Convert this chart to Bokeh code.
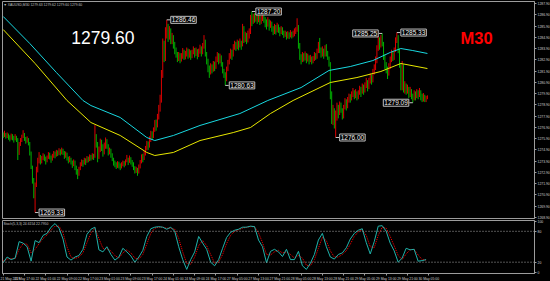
import numpy as np
from bokeh.plotting import figure
from bokeh.models import (Range1d, FixedTicker, Label, Span, ColumnDataSource,
                          PrintfTickFormatter)
from bokeh.layouts import column
from bokeh.embed import file_html
from bokeh.resources import INLINE

# ---------------- data (XAUUSD, M30) ----------------
first_open = 1276.30
closes = [
 1276.20,1276.35,1276.10,1276.25,1276.05,1275.90,1276.15,1276.00,1275.85,1276.10,
 1275.80,1274.60,1275.40,1275.75,1276.05,1276.30,1275.95,1275.70,1275.90,1275.50,
 1274.60,1273.40,1272.20,1271.10,1271.80,1273.20,1273.90,1274.30,1273.85,1274.10,
 1274.40,1274.15,1273.90,1274.25,1274.50,1274.30,1274.05,1274.35,1274.60,1274.40,
 1274.70,1274.55,1274.85,1274.60,1274.90,1274.70,1274.40,1274.55,1274.20,1273.95,
 1274.10,1273.80,1273.55,1273.90,1273.40,1273.00,1272.70,1273.20,1273.60,1273.85,
 1273.70,1274.00,1273.85,1274.20,1274.05,1274.30,1274.15,1274.40,1274.25,1276.10,
 1275.40,1274.30,1274.80,1275.50,1275.10,1274.60,1275.20,1275.70,1275.30,1274.70,
 1274.90,1274.40,1274.10,1273.80,1273.60,1273.45,1273.70,1273.50,1273.35,1273.60,
 1273.80,1273.55,1273.90,1274.10,1273.85,1274.20,1273.95,1273.70,1273.30,1273.00,
 1273.20,1272.90,1273.40,1273.80,1274.30,1274.10,1274.60,1275.00,1275.40,1275.20,
 1275.80,1276.30,1276.10,1276.70,1277.30,1277.10,1277.90,1278.60,1279.30,1281.50,
 1284.20,1283.00,1285.30,1285.70,1285.00,1285.40,1284.60,1284.90,1284.20,1283.80,
 1283.40,1283.00,1283.30,1282.90,1283.20,1283.60,1283.10,1283.40,1283.70,1283.30,
 1283.60,1283.20,1283.50,1283.80,1283.40,1283.70,1283.30,1283.60,1283.90,1283.50,
 1284.10,1284.60,1283.40,1282.80,1282.20,1281.70,1282.30,1282.00,1282.60,1282.20,
 1282.90,1283.30,1282.80,1283.20,1282.50,1281.90,1281.60,1281.20,1282.10,1282.70,
 1283.20,1283.60,1283.30,1284.00,1284.30,1284.00,1284.40,1284.10,1284.50,1284.20,
 1285.50,1284.70,1285.10,1284.60,1285.00,1285.30,1286.60,1286.20,1286.80,1286.50,
 1286.80,1286.40,1286.70,1286.30,1286.60,1286.90,1286.50,1286.20,1286.00,1286.40,
 1285.90,1286.20,1285.70,1285.40,1285.80,1285.50,1285.90,1285.60,1285.30,1285.70,
 1285.40,1285.10,1285.30,1284.90,1285.20,1284.95,1285.30,1285.00,1285.25,1285.40,
 1285.60,1285.90,1284.20,1283.10,1282.80,1283.30,1283.00,1283.40,1282.90,1283.20,
 1282.85,1283.10,1282.70,1283.00,1283.40,1283.20,1283.70,1284.20,1283.80,1283.40,
 1283.70,1283.30,1283.90,1283.50,1283.10,1282.50,1279.80,1277.60,1278.40,1277.30,
 1277.80,1278.60,1278.20,1278.90,1278.50,1277.90,1278.70,1279.20,1278.80,1279.30,
 1279.60,1279.40,1279.80,1280.10,1279.70,1280.00,1279.60,1279.90,1280.30,1280.00,
 1280.50,1280.10,1280.60,1280.90,1280.40,1281.00,1281.40,1281.10,1281.80,1282.20,
 1282.80,1283.90,1284.70,1284.20,1284.80,1284.30,1283.10,1282.40,1282.00,1281.60,
 1282.30,1282.90,1283.50,1283.10,1283.80,1284.60,1284.90,1283.80,1282.40,1280.40,
 1282.30,1280.20,1280.60,1280.10,1280.40,1279.80,1280.20,1279.70,1279.40,1279.90,
 1279.60,1280.00,1279.70,1280.10,1279.80,1279.40,1279.70,1279.30,1279.50,1279.60]
highs = [
 1276.45,1276.60,1276.40,1276.45,1276.35,1276.20,1276.35,1276.30,1276.15,1276.30,
 1276.15,1275.95,1275.60,1275.95,1276.25,1276.65,1276.40,1276.05,1276.10,1275.95,
 1275.60,1274.75,1273.50,1272.40,1272.00,1273.40,1274.20,1274.70,1274.45,1274.35,
 1274.60,1274.50,1274.30,1274.40,1274.70,1274.65,1274.40,1274.55,1274.80,1274.75,
 1274.90,1274.85,1275.05,1274.95,1275.10,1275.00,1274.80,1274.75,1274.65,1274.30,
 1274.35,1274.20,1273.95,1274.05,1273.95,1273.50,1273.20,1273.40,1273.80,1274.05,
 1274.00,1274.20,1274.15,1274.35,1274.30,1274.50,1274.45,1274.60,1274.55,1277.10,
 1276.30,1275.60,1275.20,1275.90,1275.80,1275.40,1275.55,1276.00,1275.85,1275.40,
 1275.10,1275.00,1274.60,1274.20,1273.95,1273.80,1273.90,1273.85,1273.70,1273.80,
 1273.95,1273.90,1274.05,1274.45,1274.20,1274.40,1274.25,1274.00,1273.80,1273.45,
 1273.40,1273.30,1273.60,1274.00,1274.50,1274.55,1274.80,1275.25,1275.70,1275.65,
 1276.10,1276.60,1276.55,1276.90,1277.55,1277.60,1278.10,1278.90,1279.80,1282.00,
 1284.80,1284.60,1285.80,1286.46,1286.10,1285.90,1285.70,1285.30,1285.10,1284.50,
 1284.00,1283.60,1283.60,1283.50,1283.50,1283.95,1283.80,1283.70,1284.00,1283.90,
 1283.85,1283.75,1283.80,1284.10,1283.95,1284.00,1283.85,1283.90,1284.25,1284.10,
 1284.40,1285.10,1284.70,1283.60,1283.00,1282.40,1282.60,1282.50,1282.80,1282.75,
 1283.20,1283.60,1283.50,1283.45,1283.30,1282.70,1282.10,1281.80,1282.30,1282.90,
 1283.50,1283.90,1283.80,1284.30,1284.60,1284.50,1284.70,1284.60,1284.80,1284.60,
 1286.10,1285.90,1285.40,1285.30,1285.50,1285.70,1286.90,1287.20,1287.00,1287.05,
 1287.10,1287.00,1286.95,1286.90,1286.85,1287.10,1287.00,1286.70,1286.50,1286.70,
 1286.50,1286.40,1286.30,1285.90,1286.10,1286.00,1286.20,1286.05,1285.80,1285.90,
 1285.80,1285.50,1285.50,1285.40,1285.45,1285.35,1285.55,1285.40,1285.50,1285.70,
 1285.80,1286.60,1286.00,1284.40,1283.40,1283.60,1283.50,1283.65,1283.50,1283.45,
 1283.30,1283.35,1283.20,1283.25,1283.60,1283.50,1283.90,1284.50,1284.85,1284.00,
 1284.10,1283.90,1284.20,1284.30,1283.70,1283.20,1282.70,1280.10,1278.90,1278.60,
 1278.40,1279.10,1278.90,1279.20,1279.10,1278.60,1278.90,1279.50,1279.40,1279.60,
 1279.90,1279.85,1280.10,1280.40,1280.20,1280.30,1280.10,1280.20,1280.60,1280.50,
 1280.80,1280.70,1280.90,1281.30,1281.10,1281.30,1281.70,1281.60,1282.10,1282.50,
 1283.20,1284.20,1285.00,1284.90,1285.10,1285.25,1284.50,1283.40,1282.70,1282.30,
 1282.60,1283.20,1283.80,1283.70,1284.00,1284.90,1285.33,1285.10,1283.90,1282.60,
 1282.80,1282.50,1281.00,1280.80,1280.70,1280.50,1280.50,1280.30,1279.90,1280.20,
 1280.10,1280.30,1280.20,1280.40,1280.20,1279.90,1279.95,1279.80,1279.70,1279.75]
lows = [
 1275.95,1276.05,1275.90,1275.95,1275.80,1275.65,1275.80,1275.75,1275.55,1275.75,
 1275.60,1274.00,1274.45,1275.25,1275.60,1275.95,1275.70,1275.45,1275.55,1275.30,
 1274.40,1273.20,1271.90,1270.60,1269.33,1271.60,1272.90,1273.70,1273.60,1273.70,
 1274.00,1273.90,1273.60,1273.80,1274.10,1274.05,1273.75,1273.95,1274.20,1274.15,
 1274.30,1274.35,1274.45,1274.40,1274.50,1274.45,1274.10,1274.20,1273.95,1273.70,
 1273.80,1273.60,1273.30,1273.45,1273.10,1272.70,1272.30,1272.60,1273.10,1273.45,
 1273.40,1273.60,1273.55,1273.75,1273.80,1273.90,1273.95,1274.05,1274.00,1274.20,
 1275.10,1273.80,1274.10,1274.70,1274.80,1274.30,1274.50,1275.00,1275.00,1274.40,
 1274.50,1274.20,1273.90,1273.50,1273.35,1273.20,1273.30,1273.25,1273.10,1273.25,
 1273.45,1273.35,1273.50,1273.80,1273.55,1273.75,1273.60,1273.40,1273.10,1272.80,
 1272.85,1272.60,1272.80,1273.25,1273.70,1273.80,1274.00,1274.40,1274.85,1274.90,
 1275.10,1275.60,1275.80,1275.95,1276.50,1276.60,1276.90,1277.60,1278.30,1279.10,
 1281.30,1282.70,1282.80,1284.80,1284.50,1284.70,1284.30,1284.30,1283.90,1283.40,
 1283.10,1282.70,1282.80,1282.60,1282.75,1283.00,1282.90,1282.95,1283.20,1283.00,
 1283.10,1282.90,1283.05,1283.40,1283.10,1283.25,1282.95,1283.15,1283.45,1283.20,
 1283.40,1283.90,1283.20,1282.50,1281.80,1281.30,1281.60,1281.70,1281.85,1281.90,
 1282.10,1282.70,1282.50,1282.60,1282.30,1281.70,1281.30,1280.63,1281.00,1281.90,
 1282.50,1283.00,1282.90,1283.20,1283.80,1283.70,1283.85,1283.75,1284.00,1283.80,
 1284.10,1284.40,1284.50,1284.30,1284.45,1284.80,1285.20,1285.90,1286.10,1286.20,
 1286.30,1286.10,1286.25,1286.00,1286.10,1286.35,1286.20,1285.80,1285.60,1285.85,
 1285.50,1285.75,1285.40,1285.10,1285.20,1285.15,1285.35,1285.30,1285.00,1285.20,
 1285.10,1284.85,1284.95,1284.70,1284.80,1284.75,1284.90,1284.80,1284.90,1285.00,
 1285.20,1285.40,1283.90,1282.90,1282.50,1282.70,1282.75,1282.85,1282.60,1282.75,
 1282.50,1282.70,1282.50,1282.60,1282.80,1282.90,1283.00,1283.50,1283.50,1283.10,
 1283.20,1283.00,1283.20,1283.20,1282.90,1282.30,1279.40,1277.20,1277.10,1276.80,
 1276.00,1277.50,1277.70,1278.00,1278.20,1277.60,1277.70,1278.50,1278.40,1278.60,
 1279.10,1279.10,1279.30,1279.60,1279.40,1279.50,1279.30,1279.40,1279.80,1279.60,
 1279.90,1279.80,1280.00,1280.40,1280.10,1280.30,1280.80,1280.70,1280.90,1281.60,
 1282.00,1282.60,1283.70,1283.80,1284.00,1284.10,1282.90,1282.10,1281.70,1281.20,
 1281.50,1282.10,1282.70,1282.80,1282.90,1283.60,1284.40,1283.50,1282.20,1280.20,
 1280.20,1280.00,1279.90,1279.80,1279.90,1279.50,1279.60,1279.40,1279.09,1279.30,
 1279.30,1279.50,1279.40,1279.60,1279.30,1279.15,1279.20,1279.15,1279.15,1279.40]

# moving averages (bar index, value)
ma_cyan_bar = [0, 20, 40, 60, 66, 88, 108, 114, 128, 148, 178, 199, 224, 245, 261, 278, 291, 299, 308, 319]
ma_cyan_val = [1286.76, 1284.36, 1281.78, 1279.29, 1278.84, 1277.78, 1276.00, 1275.73, 1276.18, 1277.07,
               1278.13, 1279.29, 1280.44, 1281.96, 1282.31, 1282.84, 1283.56, 1283.91, 1283.73, 1283.47]
ma_yel_bar = [0, 24, 48, 66, 88, 108, 114, 128, 148, 173, 186, 201, 218, 246, 266, 284, 299, 319]
ma_yel_val = [1285.60, 1282.58, 1279.29, 1277.33, 1276.18, 1274.67, 1274.40, 1274.67, 1275.73, 1276.44,
              1276.89, 1278.13, 1279.29, 1280.89, 1281.33, 1281.87, 1282.58, 1282.13]

# swing labels
swing_bar = [24, 123, 167, 187, 250, 285, 296, 308]
swing_price = [1269.33, 1286.46, 1280.63, 1287.20, 1276.00, 1285.25, 1285.33, 1279.09]
swing_side = ["r", "r", "r", "r", "r", "l", "r", "l"]

# stochastic (every 3rd bar)
stoch_step = 3
stoch_k = [19,30,25,28,60,57,50,22,62,58,72,76,88,95,86,65,30,24,30,33,45,74,84,88,44,40,50,35,24,30,
           47,40,32,20,30,43,70,85,88,89,88,84,88,80,50,25,6,25,40,70,57,45,20,13,25,47,68,78,82,84,
           88,88,90,89,63,50,19,41,45,40,31,45,25,25,41,13,6,18,35,63,76,50,30,26,35,38,48,65,76,82,
           85,58,36,60,90,91,80,57,42,20,28,47,44,45,22,23,25]
stoch_d = [22,26,27,27,45,56,55,38,45,56,66,73,82,90,90,77,50,30,27,30,38,58,77,86,66,47,46,42,33,28,
           38,44,38,28,26,35,55,76,86,88,88,86,86,84,66,40,18,16,30,52,62,52,35,18,20,35,56,72,80,83,
           86,88,89,89,77,58,35,34,40,43,38,40,35,28,33,28,14,13,25,47,68,62,42,30,30,35,42,55,70,79,
           83,72,50,48,72,88,86,70,52,33,25,36,44,45,34,25,24]
stoch_levels = [20, 80]

price_ticks = [1268.90 + i for i in range(20)]
time_ticks = [16 * i for i in range(21)]
time_labels = ["21 May 2019", "21 May 17:00", "22 May 01:00", "22 May 09:00", "22 May 17:00",
               "23 May 01:00", "23 May 09:00", "23 May 17:00", "24 May 01:00", "24 May 09:00",
               "24 May 17:00", "27 May 05:00", "27 May 13:00", "27 May 21:00", "28 May 05:00",
               "28 May 13:00", "28 May 21:00", "29 May 05:00", "29 May 13:00", "29 May 21:00",
               "30 May 05:00"]
last_price = 1279.60
info_text = "\u25bc XAUUSD,M30  1279.63 1279.62 1279.60 1279.60"
stoch_text = "Stoch(5,3,3) 24.6154 22.7950"

# ---------------- styling ----------------
BG = "black"
FRAME = "#9c9c9c"
AXTXT = "#d0d0d0"
UP = "#dc0000"
DN = "#00b000"
FONT = "Liberation Sans"
SMALL = "3.4px"

c = np.array(closes)
h = np.array(highs)
l = np.array(lows)
o = np.concatenate([[first_open], c[:-1]])
bars = np.arange(len(c))
top = np.maximum(h, np.maximum(o, c))
bot = np.minimum(l, np.minimum(o, c))
up = c >= o

xr = Range1d(-0.5, 399.5)

p1 = figure(frame_width=532, frame_height=217, x_range=xr,
            y_range=Range1d(1268.80, 1288.09), output_backend="svg",
            toolbar_location=None, x_axis_location=None, y_axis_location="right",
            min_border_left=2, min_border_top=1, min_border_bottom=1, min_border_right=0,
            background_fill_color=BG, border_fill_color=BG)
p1.outline_line_color = FRAME
p1.grid.visible = False
ya = p1.yaxis[0]
ya.ticker = FixedTicker(ticks=price_ticks)
ya.formatter = PrintfTickFormatter(format="%.2f")
ya.major_label_text_font_size = SMALL
ya.major_label_text_font = FONT
ya.major_label_text_color = AXTXT
ya.axis_line_color = FRAME
ya.major_tick_line_color = FRAME
ya.major_tick_out = 2
ya.major_tick_in = 0
ya.minor_tick_line_color = None
ya.major_label_standoff = 1

for mask, col in ((up, UP), (~up, DN)):
    src = ColumnDataSource(dict(x=bars[mask], t=top[mask], b=bot[mask]))
    p1.segment(x0="x", y0="b", x1="x", y1="t", source=src, line_color=col, line_width=1)

p1.line(ma_yel_bar, ma_yel_val, line_color="#e8e800", line_width=1)
p1.line(ma_cyan_bar, ma_cyan_val, line_color="#18d8e0", line_width=1)

for b, pr, side in zip(swing_bar, swing_price, swing_side):
    sgn = 1 if side == "r" else -1
    p1.segment(x0=[b], y0=[pr], x1=[b + sgn * 2.6], y1=[pr], line_color="#c8c8c8", line_width=1)
    p1.add_layout(Label(x=b, y=pr, x_offset=sgn * 4, text=f"{pr:.2f}",
                        text_align="left" if side == "r" else "right",
                        text_baseline="middle", text_font=FONT, text_font_size="6.5px",
                        text_color="#f0f0f0", background_fill_color="black",
                        border_line_color="#c0c0c0", border_line_width=1, padding=1))

p1.add_layout(Label(x=75, y=1284.89, text=f"{last_price:.2f}", text_align="center",
                    text_baseline="alphabetic", text_font=FONT, text_font_size="17.5px",
                    text_color="white"))
p1.add_layout(Label(x=356, y=1284.84, text="M30", text_align="center",
                    text_baseline="alphabetic", text_font=FONT, text_font_size="16.5px",
                    text_font_style="bold", text_color="#ff0000"))
p1.add_layout(Label(x=-0.5, y=1288.09, x_offset=1, y_offset=-1, text=info_text,
                    text_baseline="top", text_font=FONT, text_font_size=SMALL,
                    text_color="#c0c0c0"))
p1.add_layout(Label(x=399.5, y=last_price, x_offset=1, text=f"{last_price:.2f}",
                    text_baseline="middle", text_font=FONT, text_font_size=SMALL,
                    text_color="black", background_fill_color="white", padding=0))

p2 = figure(frame_width=532, frame_height=53, x_range=xr, y_range=Range1d(-2, 101),
            output_backend="svg", toolbar_location=None, y_axis_location="right",
            min_border_left=2, min_border_top=1, min_border_bottom=8, min_border_right=0,
            background_fill_color=BG, border_fill_color=BG)
p2.outline_line_color = FRAME
p2.grid.visible = False
xa = p2.xaxis[0]
xa.ticker = FixedTicker(ticks=time_ticks)
xa.major_label_overrides = {t: s for t, s in zip(time_ticks, time_labels)}
xa.major_label_text_align = "left"
xa.major_label_text_font_size = SMALL
xa.major_label_text_font = FONT
xa.major_label_text_color = AXTXT
xa.axis_line_color = FRAME
xa.major_tick_line_color = FRAME
xa.major_tick_out = 2
xa.major_tick_in = 0
xa.minor_tick_line_color = None
xa.major_label_standoff = 1
ya2 = p2.yaxis[0]
ya2.ticker = FixedTicker(ticks=[0, 20, 80, 100])
ya2.major_label_text_font_size = SMALL
ya2.major_label_text_font = FONT
ya2.major_label_text_color = AXTXT
ya2.axis_line_color = FRAME
ya2.major_tick_line_color = FRAME
ya2.major_tick_out = 2
ya2.major_tick_in = 0
ya2.minor_tick_line_color = None
ya2.major_label_standoff = 1

for lv in stoch_levels:
    p2.add_layout(Span(location=lv, dimension="width", line_color="#a8a8a8",
                       line_dash="1 2", line_width=1))

sx = [i * stoch_step for i in range(len(stoch_k))]
p2.line(sx, stoch_d, line_color="#ff0000", line_width=1, line_dash="1 1")
p2.line(sx, stoch_k, line_color="#20b2aa", line_width=1)
p2.add_layout(Label(x=-0.5, y=101, x_offset=1, y_offset=-1, text=stoch_text,
                    text_baseline="top", text_font=FONT, text_font_size=SMALL,
                    text_color="#c0c0c0"))

layout = column(p1, p2, spacing=0, styles={"background-color": "black"})
open("out.html", "w").write(file_html(layout, INLINE))
